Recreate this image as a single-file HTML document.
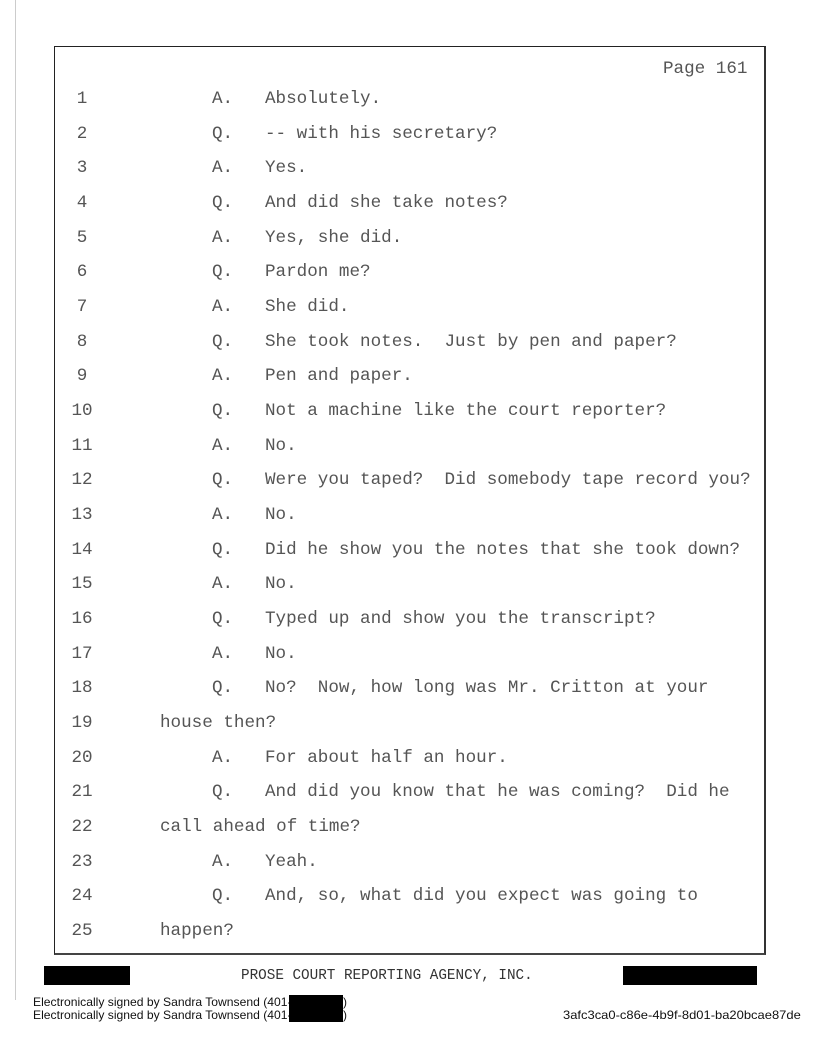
<!DOCTYPE html>
<html><head><style>
body{margin:0;width:816px;height:1056px;background:#fff;position:relative;overflow:hidden;font-family:"Liberation Mono",monospace;}
.box{position:absolute;left:54px;top:46px;width:709px;height:906px;border:1px solid #222;border-bottom:2px solid #444;border-right:2px solid #333;}
.l{position:absolute;font-size:17.6px;color:#555;white-space:pre;line-height:20px;}
.n{left:70px;width:24px;text-align:center;}
.r{position:absolute;background:#000;}
.s{position:absolute;font-family:"Liberation Sans",sans-serif;font-size:12px;color:#111;white-space:pre;transform-origin:0 0;line-height:13px;}
</style></head><body>
<div style="position:absolute;left:15px;top:0;width:1px;height:1000px;background:#ccc"></div>
<div class="box"></div>
<div class="l" style="left:663px;top:59px">Page 161</div>
<div id="c"></div>
<div class="r" style="left:44px;top:966px;width:86px;height:19px"></div>
<div class="r" style="left:623px;top:966px;width:134px;height:19px"></div>
<div class="l" style="left:241px;top:966px;font-size:14.3px;color:#333">PROSE COURT REPORTING AGENCY, INC.</div>
<div class="s" style="left:33px;top:996px;transform:scaleX(1.01)">Electronically signed by Sandra Townsend (401-</div>
<div class="s" style="left:33px;top:1009px;transform:scaleX(1.01)">Electronically signed by Sandra Townsend (401-</div>
<div class="s" style="left:343px;top:996px">)</div>
<div class="s" style="left:343px;top:1009px">)</div>
<div class="r" style="left:289px;top:995px;width:54px;height:27px"></div>
<div class="s" style="left:563px;top:1009px;transform:scaleX(1.08)">3afc3ca0-c86e-4b9f-8d01-ba20bcae87de</div>
<script>
var L=[["A.","Absolutely."],["Q.","-- with his secretary?"],["A.","Yes."],["Q.","And did she take notes?"],["A.","Yes, she did."],["Q.","Pardon me?"],["A.","She did."],["Q.","She took notes.  Just by pen and paper?"],["A.","Pen and paper."],["Q.","Not a machine like the court reporter?"],["A.","No."],["Q.","Were you taped?  Did somebody tape record you?"],["A.","No."],["Q.","Did he show you the notes that she took down?"],["A.","No."],["Q.","Typed up and show you the transcript?"],["A.","No."],["Q.","No?  Now, how long was Mr. Critton at your"],["","house then?"],["A.","For about half an hour."],["Q.","And did you know that he was coming?  Did he"],["","call ahead of time?"],["A.","Yeah."],["Q.","And, so, what did you expect was going to"],["","happen?"]];
var h="";
for(var i=0;i<25;i++){var y=89+i*34.67;
h+='<div class="l n" style="top:'+y+'px">'+(i+1)+'</div>';
if(L[i][0]){h+='<div class="l" style="left:212px;top:'+y+'px">'+L[i][0]+'</div><div class="l" style="left:265px;top:'+y+'px">'+L[i][1]+'</div>';}
else h+='<div class="l" style="left:160px;top:'+y+'px">'+L[i][1]+'</div>';}
document.getElementById("c").innerHTML=h;
</script>
</body></html>
